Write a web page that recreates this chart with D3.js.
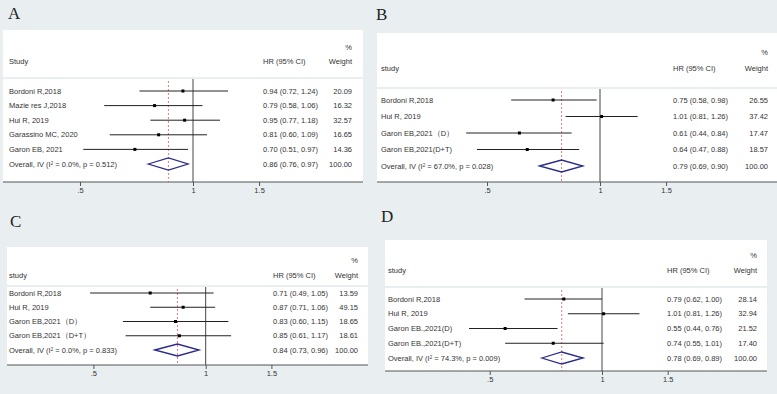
<!DOCTYPE html>
<html>
<head>
<meta charset="utf-8">
<script src="https://cdn.jsdelivr.net/npm/d3@7"></script>
<style>
body{margin:0;background:#e9eff1;}
svg{display:block;font-family:"Liberation Sans",Arial,sans-serif;}
</style>
</head>
<body>
<svg id="chart" width="777" height="394"></svg>
<script>
// panel A
var studiesA = ["Bordoni R,2018", "Mazie res J,2018", "Hui R, 2019", "Garassino MC, 2020", "Garon EB, 2021"]
var hrA = [0.94, 0.79, 0.95, 0.81, 0.70]
var loA = [0.72, 0.58, 0.77, 0.60, 0.51]
var hiA = [1.24, 1.06, 1.18, 1.09, 0.97]
var weightA = ["20.09", "16.32", "32.57", "16.65", "14.36"]
var overallA = [0.86, 0.76, 0.97]
var hetA = ["0.0%", "0.512"]

// panel B
var studiesB = ["Bordoni R,2018", "Hui R,  2019", "Garon EB,2021（D）", "Garon EB,2021(D+T)"]
var hrB = [0.75, 1.01, 0.61, 0.64]
var loB = [0.58, 0.81, 0.44, 0.47]
var hiB = [0.98, 1.26, 0.84, 0.88]
var weightB = ["26.55", "37.42", "17.47", "18.57"]
var overallB = [0.79, 0.69, 0.90]
var hetB = ["67.0%", "0.028"]

// panel C
var studiesC = ["Bordoni R,2018", "Hui R,  2019", "Garon EB,2021（D）", "Garon EB,2021（D+T）"]
var hrC = [0.71, 0.87, 0.83, 0.85]
var loC = [0.49, 0.71, 0.60, 0.61]
var hiC = [1.05, 1.06, 1.15, 1.17]
var weightC = ["13.59", "49.15", "18.65", "18.61"]
var overallC = [0.84, 0.73, 0.96]
var hetC = ["0.0%", "0.833"]

// panel D
var studiesD = ["Bordoni R,2018", "Hui R,  2019", "Garon EB.,2021(D)", "Garon EB.,2021(D+T)"]
var hrD = [0.79, 1.01, 0.55, 0.74]
var loD = [0.62, 0.81, 0.44, 0.55]
var hiD = [1.00, 1.26, 0.76, 1.01]
var weightD = ["28.14", "32.94", "21.52", "17.40"]
var overallD = [0.78, 0.69, 0.89]
var hetD = ["74.3%", "0.009"]

var tickVals = [0.5, 1, 1.5]
var tickLabels = [".5", "1", "1.5"]

var svg = d3.select("#chart")
svg.append("rect").attr("width", 777).attr("height", 394).attr("fill", "#e9eff1")

var fmt = d3.format(".2f")

function forest(p){
    var g = svg.append("g")
    var x = d3.scaleLog().domain([0.5, 1.5])
        .range([p.one - p.k * Math.log(2), p.one + p.k * Math.log(1.5)])
    var n = p.studies.length
    var y = d3.scaleLinear().domain([0, n]).range([p.row0, p.rowN])

    // white boxes, header and body
    g.append("rect").attr("x", p.left).attr("y", p.top)
        .attr("width", p.right - p.left).attr("height", p.sep - 1 - p.top).attr("fill", "#fff")
    g.append("rect").attr("x", p.left).attr("y", p.sep + 1)
        .attr("width", p.right - p.left).attr("height", p.axisY - p.sep - 1).attr("fill", "#fff")

    // panel letter
    svg.append("text").attr("x", p.letterX).attr("y", p.letterY)
        .style("font-family", "'Liberation Serif','Times New Roman',serif")
        .style("font-size", "17px").attr("fill", "#222").text(p.name)

    var txt = g.append("g").style("font-size", "7.5px").attr("fill", "#333").style("white-space", "pre")

    // header
    txt.append("text").attr("x", p.wx).attr("y", p.pctY).attr("dy", "0.35em").attr("text-anchor", "end").text("%")
    txt.append("text").attr("x", p.lx).attr("y", p.headY).attr("dy", "0.35em").text(p.head)
    txt.append("text").attr("x", p.hrx).attr("y", p.headY).attr("dy", "0.35em").text("HR (95% CI)")
    txt.append("text").attr("x", p.wx).attr("y", p.headY).attr("dy", "0.35em").attr("text-anchor", "end").text("Weight")

    // reference lines
    g.append("line").attr("x1", x(1)).attr("x2", x(1)).attr("y1", p.sep + 1).attr("y2", p.axisY)
        .attr("stroke", "#444").attr("stroke-width", 1)
    g.append("line").attr("x1", x(p.overall[0])).attr("x2", x(p.overall[0]))
        .attr("y1", p.sep + 3).attr("y2", p.axisY)
        .attr("stroke", "#d0706a").attr("stroke-width", 0.9).attr("stroke-dasharray", "2,2")

    var rows = d3.range(n)
    // CI lines
    g.selectAll(".ci").data(rows).enter().append("line")
        .attr("x1", function(i){ return x(p.lo[i]) })
        .attr("x2", function(i){ return x(p.hi[i]) })
        .attr("y1", function(i){ return y(i) })
        .attr("y2", function(i){ return y(i) })
        .attr("stroke", "#222").attr("stroke-width", 1)
    g.selectAll(".pt").data(rows).enter().append("rect")
        .attr("x", function(i){ return x(p.hr[i]) - 1.5 })
        .attr("y", function(i){ return y(i) - 1.5 })
        .attr("width", 3).attr("height", 3).attr("fill", "#000")

    // study labels and values
    rows.forEach(function(i){
        txt.append("text").attr("x", p.lx).attr("y", y(i)).attr("dy", "0.35em").text(p.studies[i])
        txt.append("text").attr("x", p.hrx).attr("y", y(i)).attr("dy", "0.35em")
            .text(fmt(p.hr[i]) + " (" + fmt(p.lo[i]) + ", " + fmt(p.hi[i]) + ")")
        txt.append("text").attr("x", p.wx).attr("y", y(i)).attr("dy", "0.35em").attr("text-anchor", "end").text(p.w[i])
    })

    // overall diamond
    var oy = y(n)
    var o = p.overall
    g.append("path")
        .attr("d", "M" + x(o[1]) + "," + oy + "L" + x(o[0]) + "," + (oy - 6) + "L" + x(o[2]) + "," + oy + "L" + x(o[0]) + "," + (oy + 6) + "Z")
        .attr("fill", "none").attr("stroke", "#2b2b8a").attr("stroke-width", 1.3)

    var ot = txt.append("text").attr("x", p.lx).attr("y", oy).attr("dy", "0.35em")
    ot.append("tspan").text("Overall, IV (I")
    ot.append("tspan").attr("baseline-shift", "super").style("font-size", "4.5px").text("2")
    ot.append("tspan").text(" = " + p.het[0] + ", p = " + p.het[1] + ")")
    txt.append("text").attr("x", p.hrx).attr("y", oy).attr("dy", "0.35em")
        .text(fmt(o[0]) + " (" + fmt(o[1]) + ", " + fmt(o[2]) + ")")
    txt.append("text").attr("x", p.wx).attr("y", oy).attr("dy", "0.35em").attr("text-anchor", "end").text("100.00")

    // axis
    g.append("line").attr("x1", p.left).attr("x2", p.right).attr("y1", p.axisY).attr("y2", p.axisY)
        .attr("stroke", "#555").attr("stroke-width", 1)
    var ax = g.append("g").attr("transform", "translate(0," + p.axisY + ")")
        .call(d3.axisBottom(x).tickValues(tickVals)
            .tickFormat(function(d, i){ return tickLabels[i] })
            .tickSize(4).tickPadding(2))
    ax.select(".domain").remove()
    ax.selectAll("line").attr("stroke", "#555")
    ax.selectAll("text").style("font-size", "7.5px").attr("fill", "#333")
        .style("font-family", "'Liberation Sans',Arial,sans-serif")
}

forest({name: "A", head: "Study", studies: studiesA, hr: hrA, lo: loA, hi: hiA, w: weightA, overall: overallA, het: hetA,
    left: 3, right: 363, top: 30, sep: 78, row0: 91, rowN: 164, axisY: 182, one: 193, k: 163,
    lx: 9, hrx: 263, wx: 352, pctY: 47, headY: 61, letterX: 8, letterY: 19})
forest({name: "B", head: "study", studies: studiesB, hr: hrB, lo: loB, hi: hiB, w: weightB, overall: overallB, het: hetB,
    left: 377, right: 777, top: 33, sep: 88, row0: 100, rowN: 166, axisY: 182, one: 600, k: 163,
    lx: 381, hrx: 673, wx: 768, pctY: 52, headY: 68, letterX: 376, letterY: 20})
forest({name: "C", head: "study", studies: studiesC, hr: hrC, lo: loC, hi: hiC, w: weightC, overall: overallC, het: hetC,
    left: 7, right: 368, top: 247, sep: 286, row0: 293, rowN: 350, axisY: 365, one: 205.7, k: 162,
    lx: 9, hrx: 273, wx: 358, pctY: 260, headY: 275, letterX: 10, letterY: 227})
forest({name: "D", head: "study", studies: studiesD, hr: hrD, lo: loD, hi: hiD, w: weightD, overall: overallD, het: hetD,
    left: 385, right: 767, top: 240, sep: 287, row0: 299, rowN: 358, axisY: 371, one: 602, k: 162,
    lx: 388, hrx: 667, wx: 757, pctY: 255, headY: 270, letterX: 381, letterY: 222})
</script>
</body>
</html>
